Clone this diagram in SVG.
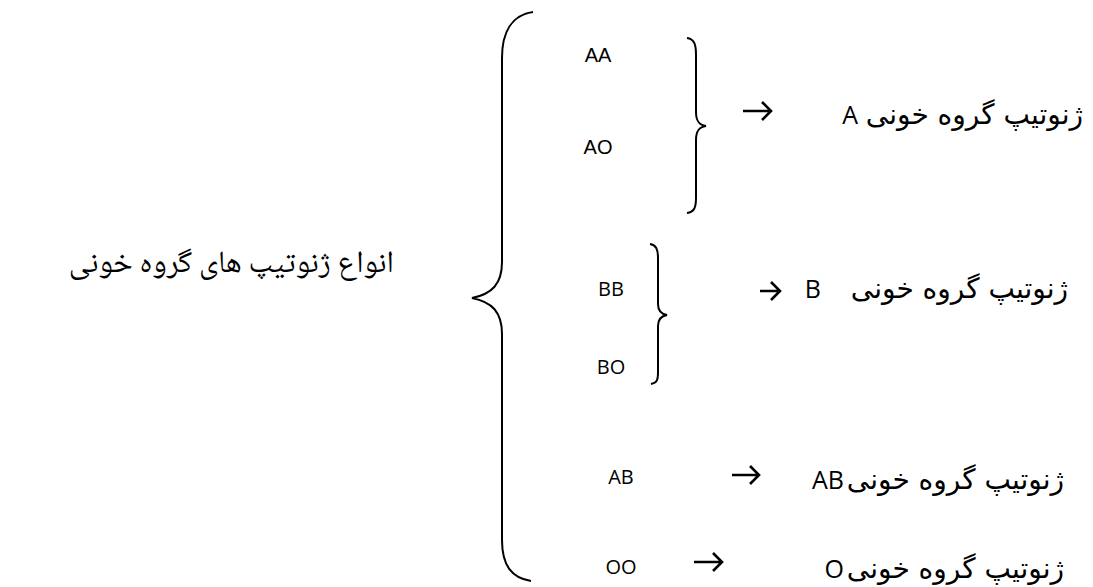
<svg xmlns="http://www.w3.org/2000/svg" width="1093" height="587" viewBox="0 0 1093 587">
<style>
.br{fill:none;stroke:#000;stroke-width:2}
.ar{fill:none;stroke:#000;stroke-width:2.6;stroke-linecap:butt}
.g1{font-family:"Liberation Sans",Arial,sans-serif;font-size:20px;fill:#000}
.g2{font-family:"Open Sans","Liberation Sans",sans-serif;font-size:20px;fill:#000}
.lt{font-family:"Open Sans","Liberation Sans",sans-serif;font-size:25px;fill:#000}
.fa{font-family:"DejaVu Sans","Noto Sans",sans-serif;font-size:28px;fill:#000}
.fl{font-family:"Noto Naskh Arabic","Liberation Serif","DejaVu Sans",serif;font-size:31px;fill:#000}
</style>
<rect width="1093" height="587" fill="#fff"/>
<g id="title"><text class="fl" x="394" y="272" text-anchor="end">انواع ژنوتیپ های گروه خونی</text></g>
<g id="main-brace"><path class="br" d="M533,12 C512,15 502,32 502,58 L502,262 C502,284 492,294 472,298 C492,302 502,312 502,334 L502,540 C502,566 512,578 531,581"/></g>
<g id="group-a">
<text class="g1" x="598" y="62" text-anchor="middle">AA</text>
<text class="g1" x="598" y="154" text-anchor="middle">AO</text>
<path class="br" d="M687,38 C694,39 696,44 696,54 L696,112 C696,121 699,125 706,126 C699,127 696,131 696,140 L696,198 C696,208 694,212 687,213"/>
</g>
<g id="result-a">
<text class="lt" x="858" y="124" text-anchor="end">A</text>
<text class="fa" x="1083" y="124" text-anchor="end">ژنوتیپ گروه خونی</text>
</g>
<g id="group-b">
<text class="g2" x="611" y="296" text-anchor="middle">BB</text>
<text class="g2" x="611" y="374" text-anchor="middle">BO</text>
<path class="br" d="M650,244 C656,245 658,249 658,258 L658,304 C658,311 661,314 667,315 C661,316 658,319 658,326 L658,372 C658,380 657,383 651,384"/>
</g>
<g id="result-b">
<text class="lt" x="821" y="298" text-anchor="end">B</text>
<text class="fa" x="1068" y="298" text-anchor="end">ژنوتیپ گروه خونی</text>
</g>
<g id="group-ab">
<text class="g2" x="621" y="484" text-anchor="middle">AB</text>
<text class="lt" x="844" y="489" text-anchor="end">AB</text>
<text class="fa" x="1064" y="489" text-anchor="end">ژنوتیپ گروه خونی</text>
</g>
<g id="group-o">
<text class="g2" x="621" y="574" text-anchor="middle">OO</text>
<text class="lt" x="844" y="578" text-anchor="end">O</text>
<text class="fa" x="1064" y="578" text-anchor="end">ژنوتیپ گروه خونی</text>
</g>
<g id="connectors">
<path class="ar" d="M743,111 H771 M762,102 L771,111 L762,120"/>
<path class="ar" d="M760,291 H780 M771,282 L780,291 L771,300"/>
<path class="ar" d="M732,475 H759 M750,466 L759,475 L750,484"/>
<path class="ar" d="M694,562 H722 M713,553 L722,562 L713,571"/>
</g>
</svg>
